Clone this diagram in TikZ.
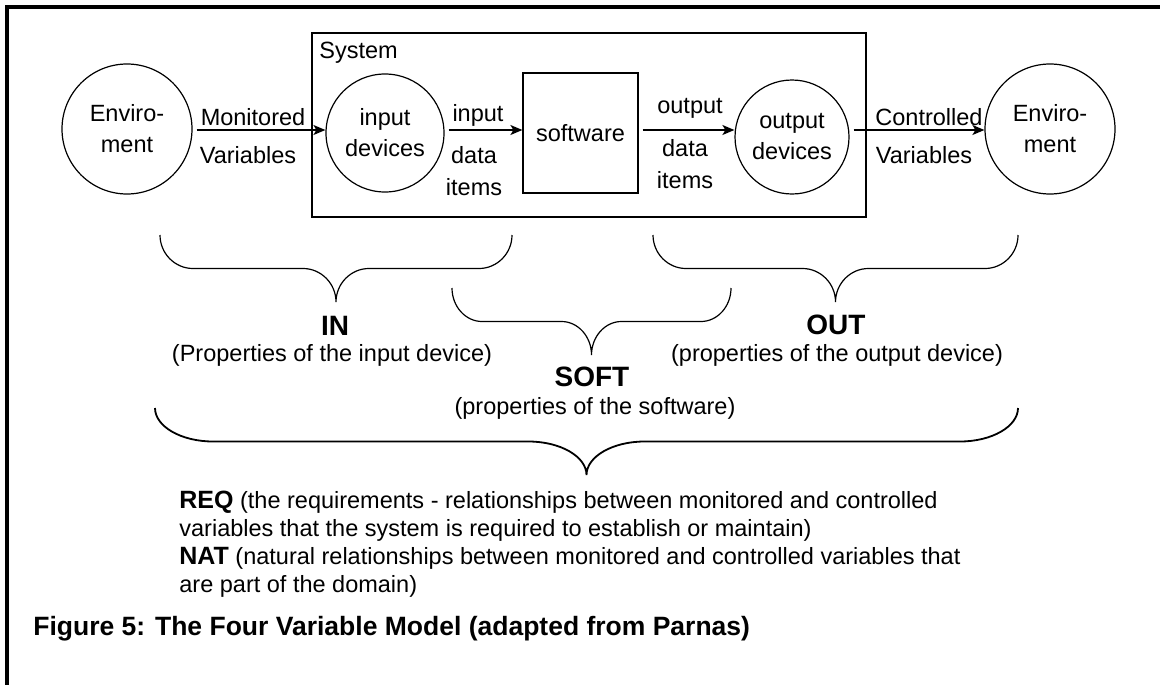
\documentclass[tikz,border=0pt]{standalone}
\usepackage{fontspec}
\setmainfont{Liberation Sans}
\usepackage{tikz}
\usetikzlibrary{calc}
\usetikzlibrary{arrows.meta}

\tikzset{ring/.style={draw, circle, line width=0.6pt, align=center, inner sep=0pt, font=\fontsize{11.75pt}{15.5pt}\selectfont}}
\tikzset{box/.style={draw, line width=0.6pt, inner sep=0pt}}
\tikzset{flow/.style={->, >={Stealth[length=6pt, width=5pt, inset=1.5pt]}, line width=0.8pt}}
\tikzset{lbl/.style={align=center, inner sep=0pt, font=\fontsize{11.75pt}{16pt}\selectfont}}
\tikzset{hd/.style={inner sep=0pt, font=\fontsize{14pt}{16pt}\selectfont\bfseries}}
\tikzset{bracepath/.style={line width=0.6pt}}
\newcommand{\tagfont}{\fontsize{12.5pt}{14pt}\selectfont\bfseries}
% #1 style, #2 left x, #3 right x, #4 top y, #5 curve width, #6 half depth
\newcommand{\downbrace}[6]{
\draw[#1] (#2,#4) .. controls (#2,{#4+0.55*#6}) and ({#2+0.45*#5},{#4+#6}) .. ({#2+#5},{#4+#6})
 -- ({(#2+#3)/2-#5},{#4+#6}) .. controls ({(#2+#3)/2-0.45*#5},{#4+#6}) and ({(#2+#3)/2},{#4+1.45*#6}) .. ({(#2+#3)/2},{#4+2*#6})
 .. controls ({(#2+#3)/2},{#4+1.45*#6}) and ({(#2+#3)/2+0.45*#5},{#4+#6}) .. ({(#2+#3)/2+#5},{#4+#6})
 -- ({#3-#5},{#4+#6}) .. controls ({#3-0.45*#5},{#4+#6}) and (#3,{#4+0.55*#6}) .. (#3,#4);
}

\begin{document}
\begin{tikzpicture}[x=0.5pt, y=-0.5pt, font=\fontsize{11.75pt}{14pt}\selectfont]
\useasboundingbox (0,0) rectangle (1160,685);
\draw[line width=2pt] (1160,7) -- (7,7) -- (7,685);

% system and its parts
\node[box, minimum width=277pt, minimum height=92pt] (sys) at (589,125) {};
\node[anchor=base west, inner sep=0pt] (sysname) at (319,58) {System};
\node[ring, minimum size=65pt] (envL) at (127,129) {Enviro-\\ment};
\node[ring, minimum size=59pt] (inDev) at (385,133) {input\\devices};
\node[box, minimum width=57.5pt, minimum height=60pt] (soft) at (580.5,133) {software};
\node[ring, minimum size=57pt] (outDev) at (792,137) {output\\devices};
\node[ring, minimum size=65pt] (envR) at (1050,129) {Enviro-\\ment};

\coordinate (ax) at (0,130);
\draw[flow] ([xshift=2pt]envL.east |- ax) -- (inDev.west |- ax);
\draw[flow] ([xshift=2pt]inDev.east |- ax) -- (soft.west |- ax);
\draw[flow] ([xshift=2pt]soft.east |- ax) -- (outDev.west |- ax);
\draw[flow] ([xshift=2pt]outDev.east |- ax) -- (envR.west |- ax);

\node[lbl] (monT) at (253,117) {Monitored};
\node[lbl] (monB) at (248,155) {Variables};
\node[lbl] (inT) at (478,115) {input};
\node[lbl] (inB) at (474,171) {data\\items};
\node[lbl] (outT) at (690,108) {output};
\node[lbl] (outB) at (685,164) {data\\items};
\node[lbl] (conT) at (929,117) {Controlled};
\node[lbl] (conB) at (924,155) {Variables};

% braces
\downbrace{bracepath}{160}{512}{235}{33}{33.5}
\downbrace{bracepath}{452}{731}{288}{30}{33.5}
\downbrace{bracepath}{653}{1018}{235}{33}{33.5}
\downbrace{bracepath, line width=0.9pt}{155}{1018}{408}{58}{33.5}

\node[hd] (inH) at (335,326) {IN};
\node[lbl] (inS) at (332,355) {(Properties of the input device)};
\node[hd] (outH) at (836,325) {OUT};
\node[lbl] (outS) at (837,355) {(properties of the output device)};
\node[hd] (softH) at (592,377) {SOFT};
\node[lbl] (softS) at (595,408) {(properties of the software)};

\node[anchor=north west, align=left, inner sep=0pt] (reqnat) at (179,491) {{\tagfont REQ} (the requirements - relationships between monitored and controlled\\variables that the system is required to establish or maintain)\\{\tagfont NAT} (natural relationships between monitored and controlled variables that\\are part of the domain)};

\node[anchor=base west, inner sep=0pt, font=\fontsize{13.25pt}{15pt}\selectfont\bfseries] (caption) at (33,635) {Figure 5: The Four Variable Model (adapted from Parnas)};
\end{tikzpicture}
\end{document}
